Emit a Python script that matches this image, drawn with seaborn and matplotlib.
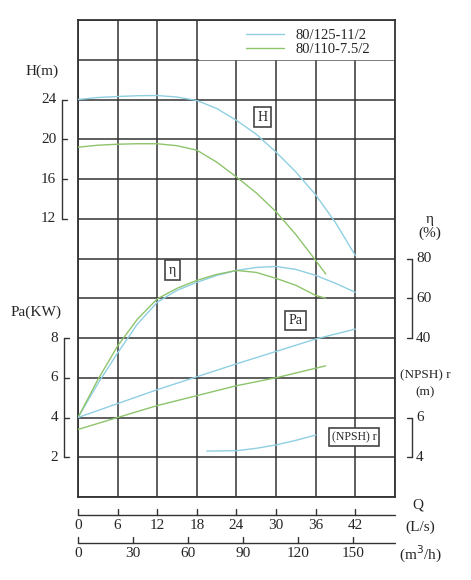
import numpy as np
import pandas as pd
import matplotlib
matplotlib.use("Agg")
import matplotlib.pyplot as plt
import seaborn as sns

# Dados (Q em L/s)
q_h_azul = [0, 3, 6, 9, 12, 15, 18, 21, 24, 27, 30, 33, 36, 39, 42]
h_azul = [24.0, 24.2, 24.3, 24.38, 24.4, 24.25, 23.9, 23.1, 21.9, 20.5, 18.7, 16.7, 14.4, 11.6, 8.3]
q_h_verde = [0, 3, 6, 9, 12, 15, 18, 21, 24, 27, 30, 33, 36, 37.5]
h_verde = [19.2, 19.4, 19.5, 19.55, 19.55, 19.35, 18.9, 17.7, 16.2, 14.6, 12.7, 10.4, 7.8, 6.45]

q_eta_azul = [0, 3, 6, 9, 12, 15, 18, 21, 24, 27, 30, 33, 36, 39, 42]
eta_azul = [0, 17, 32.5, 47, 58, 64, 68, 71.5, 74, 75.5, 76, 74.5, 71.5, 67.5, 63]
q_eta_verde = [0, 3, 6, 9, 12, 15, 18, 21, 24, 27, 30, 33, 36, 37.5]
eta_verde = [0, 19, 36, 49.5, 59.7, 65, 69, 72, 74, 73, 70, 66.5, 61.4, 60]

q_pa_azul = [0, 12, 24, 36, 42]
pa_azul = [4.0, 5.4, 6.7, 7.95, 8.45]
q_pa_verde = [0, 12, 24, 30, 37.5]
pa_verde = [3.4, 4.6, 5.6, 6.0, 6.6]

q_npsh_azul = [19.5, 24, 27, 30, 33, 36]
npsh_azul = [4.31, 4.33, 4.45, 4.62, 4.85, 5.12]

ticks_h = [24, 20, 16, 12]
ticks_eta = [80, 60, 40]
ticks_pa = [8, 6, 4, 2]
ticks_npsh = [6, 4]
ticks_ls = [0, 6, 12, 18, 24, 30, 36, 42]
ticks_m3h = [0, 30, 60, 90, 120, 150]
legenda = ["80/125-11/2", "80/110-7.5/2"]

azul = "#8fcfe2"
verde = "#8ec46c"

# conversões para unidades da grade (0..12)
g_h = lambda v: 4 + np.asarray(v) / 4
g_eta = lambda v: 2 + np.asarray(v) / 20
g_pa = lambda v: np.asarray(v) / 2
g_npsh = lambda v: np.asarray(v) / 2 - 1

sns.set_style("white")
plt.rcParams['font.family'] = ['Liberation Serif', 'DejaVu Serif']

fig = plt.figure(figsize=(4.71, 5.8), dpi=100)
ax = fig.add_axes([0.1656, 0.1431, 0.673, 0.8224])
ax.set_xlim(0, 48)
ax.set_ylim(0, 12)
ax.set_xticks(np.arange(0, 49, 6))
ax.set_yticks(np.arange(0, 13, 1))
ax.grid(True, color="#333333", lw=1.1)
for s in ax.spines.values():
    s.set_color("#333333")
    s.set_linewidth(1.3)
ax.tick_params(length=0, labelbottom=False, labelleft=False)

curvas = [
    (q_h_azul, g_h(h_azul), azul, legenda[0]),
    (q_h_verde, g_h(h_verde), verde, legenda[1]),
    (q_eta_azul, g_eta(eta_azul), azul, None),
    (q_eta_verde, g_eta(eta_verde), verde, None),
    (q_pa_azul, g_pa(pa_azul), azul, None),
    (q_pa_verde, g_pa(pa_verde), verde, None),
    (q_npsh_azul, g_npsh(npsh_azul), azul, None),
]
for x, y, cor, lab in curvas:
    sns.lineplot(x=x, y=y, color=cor, lw=1.0, label=lab, ax=ax, zorder=3)

# legenda cobrindo a faixa superior
ax.fill_between([18.3, 47.8], 11.03, 11.97, color="white", zorder=2.5)
ax.legend(loc="upper right", bbox_to_anchor=(0.95, 1.0), frameon=False, fontsize=10.5,
          handlelength=2.6, labelspacing=0.05, borderaxespad=0.2)

caixa = dict(boxstyle="square,pad=0.25", fc="white", ec="#444444", lw=1.2)
ax.text(28.0, 9.55, "H", ha="center", va="center", fontsize=10, bbox=caixa, zorder=5)
ax.text(14.3, 5.7, "η", ha="center", va="center", fontsize=10, bbox=caixa, zorder=5)
ax.text(33.0, 4.44, "Pa", ha="center", va="center", fontsize=10, bbox=caixa, zorder=5)
ax.text(41.8, 1.5, "(NPSH) r", ha="center", va="center", fontsize=8.5, bbox=caixa, zorder=5)

# escalas laterais
def escala(xl, gvals, labels, lado):
    x_t = xl + (0.8 if lado == "esq" else -0.8)
    ax.plot([xl, xl], [min(gvals), max(gvals)], color="#333333", lw=1, clip_on=False)
    for g, t in zip(gvals, labels):
        ax.plot([xl, x_t], [g, g], color="#333333", lw=1, clip_on=False)
        xs = xl - 0.9 if lado == "esq" else xl + 0.6
        ax.text(xs, g, str(t), ha="right" if lado == "esq" else "left", va="center",
                fontsize=11, clip_on=False)

escala(-2.4, g_h(ticks_h), ticks_h, "esq")
escala(-2.1, g_pa(ticks_pa), ticks_pa, "esq")
escala(50.6, g_eta(ticks_eta), ticks_eta, "dir")
escala(50.6, g_npsh(ticks_npsh), ticks_npsh, "dir")
ax.text(-5.5, 10.7, "H(m)", ha="center", va="center", fontsize=11, clip_on=False)
ax.text(-6.3, 4.65, "Pa(KW)", ha="center", va="center", fontsize=11, clip_on=False)
ax.text(53.3, 6.8, "η\n(%)", ha="center", va="center", fontsize=11, linespacing=1.1, clip_on=False)
ax.text(52.6, 2.85, "(NPSH) r\n(m)", ha="center", va="center", fontsize=9.5, linespacing=1.5, clip_on=False)

# eixos de vazão
y1, y2 = -0.45, -1.16
ax.plot([0, 48], [y1, y1], color="#333333", lw=1, clip_on=False)
for q in ticks_ls:
    ax.plot([q, q], [y1, y1 + 0.15], color="#333333", lw=1, clip_on=False)
    ax.text(q, y1 - 0.1, str(q), ha="center", va="top", fontsize=11, clip_on=False)
ax.plot([0, 48], [y2, y2], color="#333333", lw=1, clip_on=False)
for m in ticks_m3h:
    q = m / 3.6
    ax.plot([q, q], [y2, y2 + 0.15], color="#333333", lw=1, clip_on=False)
    ax.text(q, y2 - 0.1, str(m), ha="center", va="top", fontsize=11, clip_on=False)
ax.text(51.5, -0.2, "Q", ha="center", va="center", fontsize=11, clip_on=False)
ax.text(51.8, -0.75, "(L/s)", ha="center", va="center", fontsize=11, clip_on=False)
ax.text(51.8, -1.45, "(m$^3$/h)", ha="center", va="center", fontsize=11, clip_on=False)

fig.savefig("out.png", dpi=100, facecolor="white")
